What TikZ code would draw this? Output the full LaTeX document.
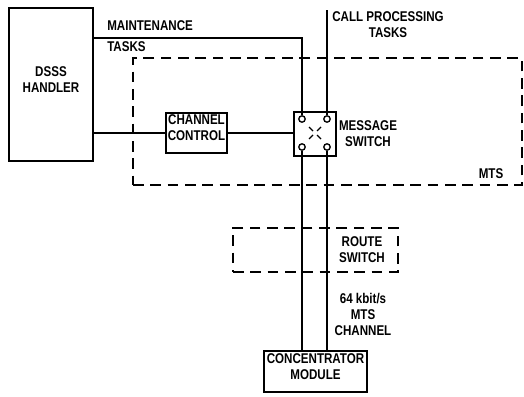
\documentclass[tikz,border=0pt]{standalone}
\usepackage{fontspec}
\setmainfont{Liberation Sans}[FakeStretch=0.82]
\usetikzlibrary{fit}
\begin{document}
\begin{tikzpicture}[x=0.75pt,y=-0.75pt,
  every node/.style={font=\fontsize{10.6}{12}\selectfont\bfseries},
  box/.style={draw, line width=1.1pt, inner sep=0pt, align=center},
  dbox/.style={draw, line width=1.1pt, inner sep=0pt, dash pattern=on 8pt off 5pt},
  lbl/.style={align=center, inner sep=0pt},
  ln/.style={line width=1.1pt},
  port/.style={circle, draw, line width=1pt, inner sep=0pt, minimum size=4.8pt, fill=white},
  xs/.style={line width=1pt}]
\useasboundingbox (0,0) rectangle (524,396);
% dashed boundaries
\node[dbox, fit={(133,58) (522,185)}] (mts) {};
\node[dbox, fit={(233,228) (398,272)}] (rs) {};
% boxes
\node[box, fit={(9,8) (93,161)}] (h) {DSSS\\HANDLER};
\node[box, fit={(166,113) (227,153)}] (cc) {CHANNEL\\CONTROL};
\node[box, fit={(294,112) (336,156)}] (ms) {};
\node[box, fit={(264,351) (367,392)}] (cm) {CONCENTRATOR\\MODULE};
% ports of the message switch
\node[port] (c1) at (302,119) {};
\node[port] (c2) at (327,119) {};
\node[port] (c3) at (302,147) {};
\node[port] (c4) at (327,147) {};
% switch cross
\draw[xs] (309,127) -- (313,131);
\draw[xs] (321,127) -- (317,131);
\draw[xs] (309,139) -- (313,135);
\draw[xs] (321,139) -- (317,135);
% connectors
\coordinate (mt) at (302,38);
\coordinate (cp) at (327,10);
\draw[ln] (mt -| h.east) -- (mt) -- (c1.north);
\draw[ln] (cp) -- (c2.north);
\draw[ln] (h.east |- cc.west) -- (cc.west);
\draw[ln] (cc.east) -- (ms.west |- cc.east);
\draw[ln] (c3.south) -- (c3 |- cm.north);
\draw[ln] (c4.south) -- (c4 |- cm.north);
% labels
\node[lbl, anchor=west] (lm) at (107,26) {MAINTENANCE};
\node[lbl, anchor=west] (lt) at (107,47) {TASKS};
\node[lbl] (lc) at (388,25) {CALL PROCESSING\\TASKS};
\node[lbl] (lms) at (368,134) {MESSAGE\\SWITCH};
\node[lbl] (lmts) at (491,174) {MTS};
\node[lbl] (lrs) at (362,250) {ROUTE\\SWITCH};
\node[lbl] (lch) at (363,314) {64 kbit/s\\MTS\\CHANNEL};
\end{tikzpicture}
\end{document}
